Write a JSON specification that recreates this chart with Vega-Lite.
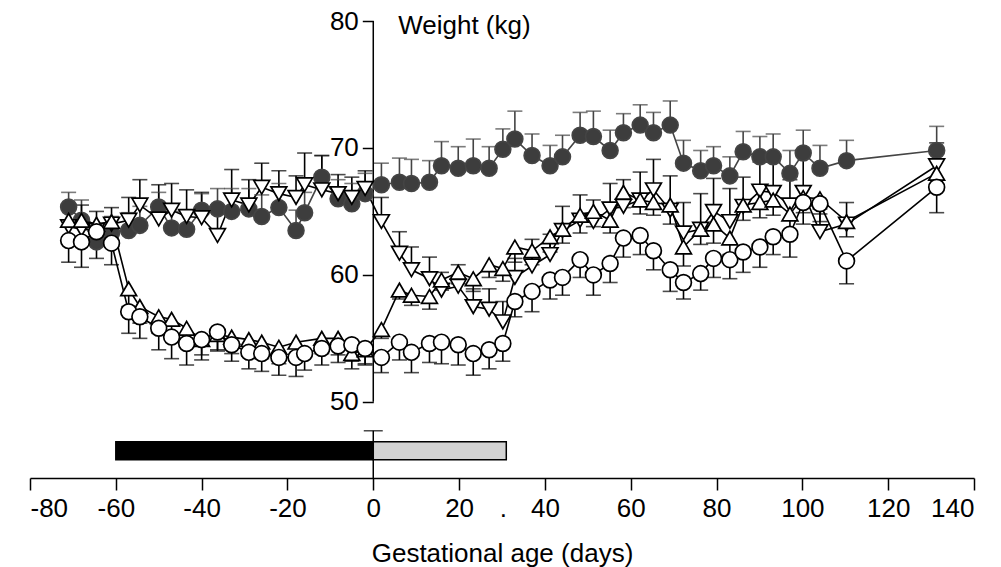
{
  "$schema": "https://vega.github.io/schema/vega-lite/v6.json",
  "width": 944,
  "height": 457,
  "autosize": "none",
  "padding": {"left": 30, "top": 21, "right": 27, "bottom": 89},
  "config": {"view": {"stroke": null}, "font": "Liberation Sans"},
  "datasets": {
    "w": [
      {"g":"A","d":-71,"m":65.35,"e":66.5},{"g":"A","d":-68,"m":64.3,"e":65.9},{"g":"A","d":-64.5,"m":62.6,"e":64.0},{"g":"A","d":-61,"m":63.3,"e":64.6},{"g":"A","d":-57,"m":63.5,"e":64.9},{"g":"A","d":-54.4,"m":63.9,"e":65.4},{"g":"A","d":-50,"m":65.35,"e":66.5},{"g":"A","d":-47,"m":63.7,"e":65.0},{"g":"A","d":-43.5,"m":63.6,"e":65.1},{"g":"A","d":-40,"m":65.1,"e":66.4},{"g":"A","d":-36.3,"m":65.2,"e":66.8},{"g":"A","d":-33,"m":65.0,"e":66.8},{"g":"A","d":-29,"m":65.2,"e":66.8},{"g":"A","d":-26,"m":64.6,"e":66.3},{"g":"A","d":-22,"m":65.3,"e":67.2},{"g":"A","d":-18,"m":63.5,"e":65.1},{"g":"A","d":-16,"m":64.9,"e":66.5},{"g":"A","d":-12,"m":67.7,"e":69.4},{"g":"A","d":-8.2,"m":66.0,"e":67.5},{"g":"A","d":-5,"m":65.6,"e":67.2},{"g":"A","d":-1.9,"m":66.4,"e":68.0},{"g":"A","d":1.9,"m":67.1,"e":68.8},{"g":"A","d":6.1,"m":67.3,"e":69.2},{"g":"A","d":8.9,"m":67.2,"e":69.1},{"g":"A","d":13.1,"m":67.3,"e":69.0},{"g":"A","d":15.9,"m":68.6,"e":70.5},{"g":"A","d":19.8,"m":68.4,"e":70.1},{"g":"A","d":23.3,"m":68.6,"e":70.7},{"g":"A","d":27,"m":68.4,"e":70.1},{"g":"A","d":30.2,"m":69.9,"e":71.5},{"g":"A","d":33,"m":70.7,"e":72.9},{"g":"A","d":37,"m":69.4,"e":71.1},{"g":"A","d":41.2,"m":68.6,"e":70.2},{"g":"A","d":44.1,"m":69.3,"e":71.0},{"g":"A","d":48.2,"m":71.0,"e":72.8},{"g":"A","d":51.3,"m":70.9,"e":72.9},{"g":"A","d":55.2,"m":69.8,"e":71.4},{"g":"A","d":58.3,"m":71.2,"e":72.7},{"g":"A","d":62.2,"m":71.8,"e":73.4},{"g":"A","d":65.3,"m":71.2,"e":72.8},{"g":"A","d":69.2,"m":71.8,"e":73.7},{"g":"A","d":72.3,"m":68.8,"e":70.6},{"g":"A","d":76.3,"m":68.2,"e":69.8},{"g":"A","d":79.3,"m":68.6,"e":70.1},{"g":"A","d":83.1,"m":67.8,"e":69.3},{"g":"A","d":86.2,"m":69.7,"e":71.3},{"g":"A","d":90.1,"m":69.3,"e":70.9},{"g":"A","d":93.2,"m":69.3,"e":71.1},{"g":"A","d":97.1,"m":68.0,"e":69.8},{"g":"A","d":100.2,"m":69.6,"e":71.4},{"g":"A","d":104.1,"m":68.4,"e":70.2},{"g":"A","d":110.3,"m":69.0,"e":70.6},{"g":"A","d":131.3,"m":69.8,"e":71.7},

      {"g":"B","d":-71,"m":63.8,"e":65.5},{"g":"B","d":-68,"m":63.6,"e":65.5},{"g":"B","d":-64.5,"m":63.5,"e":65.0},{"g":"B","d":-61,"m":64.0,"e":65.3},{"g":"B","d":-57,"m":64.3,"e":66.1},{"g":"B","d":-54.4,"m":65.5,"e":67.5},{"g":"B","d":-50,"m":64.4,"e":67.1},{"g":"B","d":-47,"m":65.1,"e":67.2},{"g":"B","d":-43.5,"m":64.6,"e":66.7},{"g":"B","d":-40,"m":64.5,"e":66.5},{"g":"B","d":-36.3,"m":63.1,"e":65.5},{"g":"B","d":-33,"m":65.9,"e":68.3},{"g":"B","d":-29,"m":65.5,"e":67.5},{"g":"B","d":-26,"m":66.9,"e":68.8},{"g":"B","d":-22,"m":66.4,"e":68.2},{"g":"B","d":-18,"m":66.1,"e":67.8},{"g":"B","d":-16,"m":67.1,"e":69.6},{"g":"B","d":-12,"m":66.7,"e":69.4},{"g":"B","d":-8.2,"m":66.4,"e":67.9},{"g":"B","d":-5,"m":66.1,"e":67.7},{"g":"B","d":-1.9,"m":66.8,"e":68.2},{"g":"B","d":1.9,"m":64.2,"e":66.1},{"g":"B","d":6.1,"m":61.7,"e":63.4},{"g":"B","d":8.9,"m":60.4,"e":62.2},{"g":"B","d":13.1,"m":59.7,"e":61.4},{"g":"B","d":15.9,"m":58.8,"e":60.2},{"g":"B","d":19.8,"m":59.1,"e":60.8},{"g":"B","d":23.3,"m":57.5,"e":58.9},{"g":"B","d":27,"m":57.3,"e":58.9},{"g":"B","d":30.2,"m":56.3,"e":57.9},{"g":"B","d":33,"m":59.8,"e":61.3},{"g":"B","d":37,"m":60.7,"e":62.8},{"g":"B","d":41.2,"m":61.6,"e":63.2},{"g":"B","d":44.1,"m":63.5,"e":65.4},{"g":"B","d":48.2,"m":64.3,"e":66.3},{"g":"B","d":51.3,"m":64.2,"e":65.9},{"g":"B","d":55.2,"m":65.2,"e":67.2},{"g":"B","d":58.3,"m":65.4,"e":67.5},{"g":"B","d":62.2,"m":65.9,"e":68.1},{"g":"B","d":65.3,"m":66.7,"e":69.1},{"g":"B","d":69.2,"m":65.1,"e":67.8},{"g":"B","d":72.3,"m":63.3,"e":65.7},{"g":"B","d":76.3,"m":63.6,"e":66.4},{"g":"B","d":79.3,"m":65.0,"e":67.6},{"g":"B","d":83.1,"m":64.2,"e":66.8},{"g":"B","d":86.2,"m":65.4,"e":67.7},{"g":"B","d":90.1,"m":66.6,"e":68.9},{"g":"B","d":93.2,"m":66.5,"e":68.9},{"g":"B","d":97.1,"m":65.5,"e":67.5},{"g":"B","d":100.2,"m":66.5,"e":69.3},{"g":"B","d":104.1,"m":63.4,"e":65.2},{"g":"B","d":110.3,"m":64.0,"e":65.7},{"g":"B","d":131.3,"m":68.6,"e":70.4},

      {"g":"C","d":-71,"m":64.3,"e":63.0},{"g":"C","d":-68,"m":64.3,"e":63.0},{"g":"C","d":-64.5,"m":64.0,"e":62.8},{"g":"C","d":-61,"m":64.2,"e":62.9},{"g":"C","d":-57,"m":58.9,"e":57.5},{"g":"C","d":-54.4,"m":57.5,"e":56.2},{"g":"C","d":-50,"m":56.7,"e":55.4},{"g":"C","d":-47,"m":56.5,"e":55.2},{"g":"C","d":-43.5,"m":55.8,"e":54.5},{"g":"C","d":-40,"m":54.9,"e":53.7},{"g":"C","d":-36.3,"m":55.3,"e":54.0},{"g":"C","d":-33,"m":55.1,"e":53.8},{"g":"C","d":-29,"m":54.9,"e":53.6},{"g":"C","d":-26,"m":54.7,"e":53.4},{"g":"C","d":-22,"m":54.3,"e":53.0},{"g":"C","d":-18,"m":54.7,"e":53.4},{"g":"C","d":-12,"m":55.0,"e":53.8},{"g":"C","d":-8.2,"m":55.0,"e":53.7},{"g":"C","d":-5,"m":53.8,"e":52.6},{"g":"C","d":-1.9,"m":54.1,"e":52.9},{"g":"C","d":1.9,"m":55.7,"e":55.0},{"g":"C","d":6.1,"m":58.8,"e":58.1},{"g":"C","d":8.9,"m":58.4,"e":57.6},{"g":"C","d":13.1,"m":58.3,"e":57.3},{"g":"C","d":15.9,"m":59.6,"e":58.8},{"g":"C","d":19.8,"m":60.2,"e":59.3},{"g":"C","d":23.3,"m":59.7,"e":58.7},{"g":"C","d":27,"m":60.8,"e":59.8},{"g":"C","d":30.2,"m":60.5,"e":59.5},{"g":"C","d":33,"m":62.2,"e":61.0},{"g":"C","d":37,"m":61.9,"e":60.8},{"g":"C","d":41.2,"m":63.0,"e":61.8},{"g":"C","d":44.1,"m":63.6,"e":62.5},{"g":"C","d":48.2,"m":64.7,"e":63.3},{"g":"C","d":51.3,"m":65.0,"e":63.8},{"g":"C","d":55.2,"m":64.3,"e":63.3},{"g":"C","d":58.3,"m":66.5,"e":65.3},{"g":"C","d":62.2,"m":65.9,"e":64.8},{"g":"C","d":65.3,"m":65.7,"e":64.7},{"g":"C","d":69.2,"m":65.5,"e":64.0},{"g":"C","d":72.3,"m":62.2,"e":60.7},{"g":"C","d":76.3,"m":63.6,"e":62.4},{"g":"C","d":79.3,"m":64.0,"e":62.5},{"g":"C","d":83.1,"m":62.9,"e":61.6},{"g":"C","d":86.2,"m":65.5,"e":64.3},{"g":"C","d":90.1,"m":65.7,"e":64.5},{"g":"C","d":93.2,"m":65.9,"e":64.7},{"g":"C","d":97.1,"m":64.8,"e":63.5},{"g":"C","d":100.2,"m":66.1,"e":64.9},{"g":"C","d":104.1,"m":66.0,"e":64.8},{"g":"C","d":110.3,"m":64.2,"e":63.0},{"g":"C","d":131.3,"m":68.0,"e":66.8},

      {"g":"D","d":-71,"m":62.7,"e":61.0},{"g":"D","d":-68,"m":62.6,"e":60.6},{"g":"D","d":-64.5,"m":63.4,"e":61.3},{"g":"D","d":-61,"m":62.5,"e":60.8},{"g":"D","d":-57,"m":57.1,"e":55.4},{"g":"D","d":-54.4,"m":56.7,"e":55.0},{"g":"D","d":-50,"m":55.8,"e":54.1},{"g":"D","d":-47,"m":55.1,"e":53.4},{"g":"D","d":-43.5,"m":54.6,"e":52.9},{"g":"D","d":-40,"m":54.9,"e":53.3},{"g":"D","d":-36.3,"m":55.5,"e":54.1},{"g":"D","d":-33,"m":54.5,"e":53.2},{"g":"D","d":-29,"m":53.9,"e":52.6},{"g":"D","d":-26,"m":53.8,"e":52.4},{"g":"D","d":-22,"m":53.5,"e":52.1},{"g":"D","d":-18,"m":53.5,"e":52.0},{"g":"D","d":-16,"m":53.8,"e":52.5},{"g":"D","d":-12,"m":54.2,"e":52.9},{"g":"D","d":-8.2,"m":54.4,"e":53.1},{"g":"D","d":-5,"m":54.5,"e":53.2},{"g":"D","d":-1.9,"m":54.2,"e":53.0},{"g":"D","d":1.9,"m":53.5,"e":52.3},{"g":"D","d":6.1,"m":54.7,"e":53.3},{"g":"D","d":8.9,"m":53.9,"e":52.3},{"g":"D","d":13.1,"m":54.6,"e":53.1},{"g":"D","d":15.9,"m":54.7,"e":53.0},{"g":"D","d":19.8,"m":54.5,"e":52.9},{"g":"D","d":23.3,"m":53.8,"e":52.1},{"g":"D","d":27,"m":54.1,"e":52.6},{"g":"D","d":30.2,"m":54.6,"e":53.2},{"g":"D","d":33,"m":57.9,"e":56.7},{"g":"D","d":37,"m":58.7,"e":57.1},{"g":"D","d":41.2,"m":59.6,"e":58.1},{"g":"D","d":44.1,"m":59.8,"e":58.4},{"g":"D","d":48.2,"m":61.2,"e":59.8},{"g":"D","d":51.3,"m":60.0,"e":58.4},{"g":"D","d":55.2,"m":60.9,"e":59.4},{"g":"D","d":58.3,"m":62.9,"e":61.4},{"g":"D","d":62.2,"m":63.1,"e":61.6},{"g":"D","d":65.3,"m":61.9,"e":60.4},{"g":"D","d":69.2,"m":60.4,"e":58.7},{"g":"D","d":72.3,"m":59.4,"e":58.1},{"g":"D","d":76.3,"m":60.1,"e":58.8},{"g":"D","d":79.3,"m":61.3,"e":59.8},{"g":"D","d":83.1,"m":61.2,"e":59.7},{"g":"D","d":86.2,"m":61.8,"e":60.2},{"g":"D","d":90.1,"m":62.2,"e":60.6},{"g":"D","d":93.2,"m":63.0,"e":61.6},{"g":"D","d":97.1,"m":63.2,"e":61.4},{"g":"D","d":100.2,"m":65.7,"e":64.0},{"g":"D","d":104.1,"m":65.6,"e":64.2},{"g":"D","d":110.3,"m":61.1,"e":59.3},{"g":"D","d":131.3,"m":66.9,"e":64.9}
    ],
    "bars": [
      {"start": -60, "end": 0, "phase": "a"},
      {"start": 0, "end": 31, "phase": "b"}
    ],
    "one": [{"k": 1}]
  },
  "layer": [
    {
      "data": {"name": "bars"},
      "mark": {"type": "bar", "stroke": "#000", "strokeWidth": 1.5},
      "encoding": {
        "x": {"field": "start", "type": "quantitative", "scale": {"domain": [-80, 140], "nice": false, "zero": false},
          "axis": {"values": [-80,-60,-40,-20,0,20,40,60,80,100,120,140], "labelExpr": "'' + datum.value", "domainColor": "#000", "domainWidth": 1.5, "tickColor": "#000", "tickWidth": 1.5, "tickSize": 12, "labelFontSize": 26, "labelColor": "#000", "labelPadding": 5, "labelFont": "Liberation Sans", "grid": false, "title": "Gestational age (days)", "titleFontSize": 26, "titleFontWeight": "normal", "titleFont": "Liberation Sans", "titleColor": "#000", "titlePadding": 19}},
        "x2": {"field": "end"},
        "y": {"datum": 45.43, "type": "quantitative", "scale": {"domain": [44, 80], "nice": false, "zero": false},
          "axis": {"values": [50, 60, 70, 80], "offset": -343.3, "domain": false, "tickColor": "#000", "tickWidth": 1.5, "tickSize": 11, "labelFontSize": 26, "labelColor": "#000", "labelPadding": 4, "labelFont": "Liberation Sans", "grid": false, "title": null}},
        "y2": {"datum": 46.85},
        "fill": {"field": "phase", "type": "nominal", "scale": {"domain": ["a", "b"], "range": ["#000000", "#d3d3d3"]}, "legend": null}
      }
    },
    {
      "data": {"name": "one"},
      "mark": {"type": "rule", "color": "#000", "strokeWidth": 1.5},
      "encoding": {"x": {"datum": 0, "type": "quantitative"}, "y": {"datum": 50, "type": "quantitative"}, "y2": {"datum": 80}}
    },
    {
      "data": {"name": "one"},
      "mark": {"type": "rule", "color": "#000", "strokeWidth": 1.5},
      "encoding": {"x": {"datum": 0, "type": "quantitative"}, "y": {"datum": 44, "type": "quantitative"}, "y2": {"datum": 47.72}}
    },
    {
      "data": {"name": "one"},
      "mark": {"type": "tick", "orient": "horizontal", "color": "#000", "size": 19, "thickness": 1.5},
      "encoding": {"x": {"datum": 0, "type": "quantitative"}, "y": {"datum": 47.72, "type": "quantitative"}}
    },
    {
      "data": {"name": "one"},
      "mark": {"type": "text", "align": "left", "baseline": "middle", "fontSize": 26, "font": "Liberation Sans", "color": "#000", "dy": 5, "text": "Weight (kg)"},
      "encoding": {"x": {"datum": 5.8, "type": "quantitative"}, "y": {"datum": 80, "type": "quantitative"}}
    },
    {
      "data": {"name": "one"},
      "mark": {"type": "text", "align": "center", "baseline": "alphabetic", "fontSize": 26, "font": "Liberation Sans", "color": "#000", "text": "."},
      "encoding": {"x": {"datum": 30.3, "type": "quantitative"}, "y": {"datum": 40.9, "type": "quantitative"}}
    },
    {
      "data": {"name": "w"},
      "mark": {"type": "line", "strokeWidth": 1.6},
      "encoding": {
        "x": {"field": "d", "type": "quantitative"},
        "y": {"field": "m", "type": "quantitative"},
        "detail": {"field": "g"},
        "stroke": {"field": "g", "type": "nominal", "scale": {"domain": ["A", "B", "C", "D"], "range": ["#444444", "#000000", "#000000", "#000000"]}, "legend": null}
      }
    },
    {
      "data": {"name": "w"},
      "mark": {"type": "rule", "strokeWidth": 1.6},
      "encoding": {
        "x": {"field": "d", "type": "quantitative"},
        "y": {"field": "m", "type": "quantitative"},
        "y2": {"field": "e"},
        "stroke": {"field": "g", "type": "nominal", "legend": null}
      }
    },
    {
      "data": {"name": "w"},
      "mark": {"type": "tick", "orient": "horizontal", "size": 15, "thickness": 1.6},
      "encoding": {
        "x": {"field": "d", "type": "quantitative"},
        "y": {"field": "e", "type": "quantitative"},
        "color": {"field": "g", "type": "nominal", "scale": {"domain": ["A", "B", "C", "D"], "range": ["#444444", "#000000", "#000000", "#000000"]}, "legend": null}
      }
    },
    {
      "data": {"name": "w"},
      "mark": {"type": "point", "strokeWidth": 1.7, "opacity": 1, "fillOpacity": 1},
      "encoding": {
        "x": {"field": "d", "type": "quantitative"},
        "y": {"field": "m", "type": "quantitative"},
        "shape": {"field": "g", "type": "nominal", "scale": {"domain": ["A", "B", "C", "D"], "range": ["circle", "triangle-down", "triangle-up", "circle"]}, "legend": null},
        "fill": {"field": "g", "type": "nominal", "scale": {"domain": ["A", "B", "C", "D"], "range": ["#3d3d3d", "#ffffff", "#ffffff", "#ffffff"]}, "legend": null},
        "stroke": {"field": "g", "type": "nominal", "legend": null},
        "size": {"value": 250}
      }
    }
  ],
  "resolve": {"scale": {"fill": "independent"}}
}
